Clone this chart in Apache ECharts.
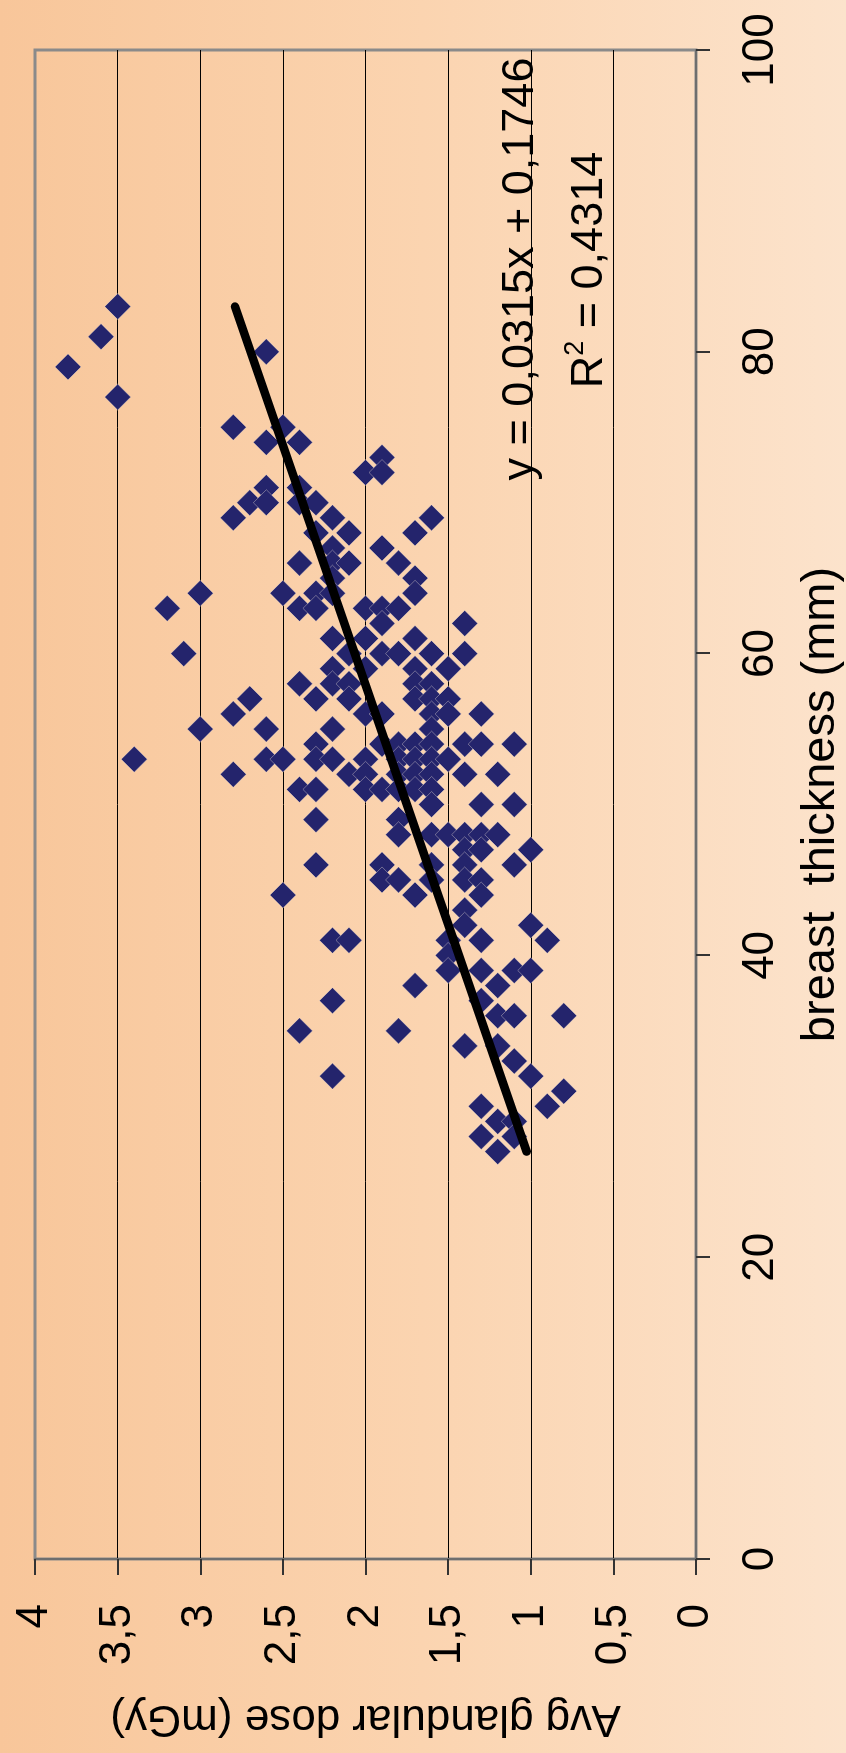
<!DOCTYPE html>
<html>
<head>
<meta charset="utf-8">
<script src="https://cdn.jsdelivr.net/npm/echarts@6/dist/echarts.min.js"></script>
<style>
  html, body { margin: 0; padding: 0; width: 846px; height: 1753px; overflow: hidden; background: #FBD9BA; }
  #chart {
    position: absolute; left: 0; top: 0;
    width: 1753px; height: 846px;
    transform-origin: 0 0;
    transform: translateY(1753px) rotate(-90deg);
    background: linear-gradient(to bottom, #F8C69A 0%, #FBD4B0 50%, #FCE3CC 100%);
  }
</style>
</head>
<body>
<div id="chart"></div>
<script>
// Breast thickness (mm) groups and the average glandular doses (mGy) read at each thickness
const thicknessGroups = [83, 81, 80, 79, 77, 75, 74, 73, 72, 71, 70, 69, 68, 67, 66, 65, 64, 63, 62, 61,
  60, 59, 58, 57, 56, 55, 54, 53, 52, 51, 50, 49, 48, 47, 46, 45, 44, 43, 42, 41,
  40, 39, 38, 37, 36, 35, 34, 33, 32, 31, 30, 29, 28, 27];
const doseGroups = [
  [3.5], [3.6], [2.6], [3.8], [3.5],
  [2.8, 2.5], [2.6, 2.4], [1.9], [2.0, 1.9], [2.6, 2.4],
  [2.7, 2.6, 2.4, 2.3], [2.8, 2.2, 1.6], [2.3, 2.1, 1.7], [2.2, 1.9], [2.4, 2.2, 2.1, 1.8],
  [2.2, 1.7], [3.0, 2.5, 2.3, 2.2, 1.7], [3.2, 2.4, 2.3, 2.0, 1.9, 1.8], [1.9, 1.4], [2.2, 2.0, 1.7],
  [3.1, 2.1, 1.9, 1.8, 1.6, 1.4], [2.2, 2.0, 1.7, 1.5], [2.4, 2.2, 2.1, 1.7, 1.6], [2.7, 2.3, 2.1, 1.7, 1.6, 1.5],
  [2.8, 2.0, 1.9, 1.6, 1.5, 1.3], [3.0, 2.6, 2.2, 1.6], [2.3, 1.9, 1.8, 1.7, 1.6, 1.4, 1.3, 1.1],
  [3.4, 2.6, 2.5, 2.3, 2.2, 2.0, 1.8, 1.7, 1.6, 1.5], [2.8, 2.1, 2.0, 1.8, 1.7, 1.6, 1.4, 1.2],
  [2.4, 2.3, 2.0, 1.9, 1.8, 1.7, 1.6], [1.6, 1.3, 1.1], [2.3, 1.8], [1.8, 1.6, 1.5, 1.4, 1.3, 1.2],
  [1.4, 1.3, 1.0], [2.3, 1.9, 1.6, 1.4, 1.1], [1.9, 1.8, 1.6, 1.4, 1.3], [2.5, 1.7, 1.3], [1.4],
  [1.4, 1.0], [2.2, 2.1, 1.5, 1.3, 0.9], [1.5], [1.5, 1.3, 1.1, 1.0], [1.7, 1.2], [2.2, 1.3],
  [1.2, 1.1, 0.8], [2.4, 1.8], [1.4, 1.2], [1.1], [2.2, 1.0], [0.8], [1.3, 0.9], [1.2, 1.1],
  [1.3, 1.1], [1.2]
];
// Linear trendline end points (x = thickness, y = dose) as drawn in the chart
const trendX = [27, 83];
const trendY = [1.025, 2.79];
const equationText = 'y = 0,0315x + 0,1746';
const r2Value = '0,4314';
const xTicks = { min: 0, max: 100, interval: 20 };
const yTicks = { min: 0, max: 4, interval: 0.5 };
const xTitle = 'breast  thickness (mm)';
const yTitle = 'Avg glandular dose (mGy)';

const points = [];
thicknessGroups.forEach((t, i) => doseGroups[i].forEach(d => points.push([t, d])));
const trend = trendX.map((x, i) => [x, trendY[i]]);

const FONT = "'Liberation Sans', Arial, sans-serif";
const chart = echarts.init(document.getElementById('chart'), null, { renderer: 'canvas', width: 1753, height: 846 });
chart.setOption({
  backgroundColor: 'transparent',
  animation: false,
  textStyle: { fontFamily: FONT },
  grid: {
    left: 194, right: 50, top: 35, bottom: 150,
    containLabel: false, outerBoundsMode: 'none',
    show: true, borderColor: '#8a8a8a', borderWidth: 3, backgroundColor: 'transparent'
  },
  xAxis: {
    type: 'value', min: xTicks.min, max: xTicks.max, interval: xTicks.interval,
    position: 'bottom',
    name: xTitle, nameLocation: 'middle', nameGap: 102,
    nameTextStyle: { fontSize: 47, color: '#000', fontFamily: FONT },
    axisLine: { show: true, onZero: false, lineStyle: { color: '#6e6e6e', width: 2 } },
    axisTick: { show: true, inside: false, length: 14, lineStyle: { color: '#333', width: 2 } },
    axisLabel: { fontSize: 44, color: '#000', margin: 43, fontFamily: FONT, showMinLabel: true, showMaxLabel: true },
    splitLine: { show: false }
  },
  yAxis: {
    type: 'value', min: yTicks.min, max: yTicks.max, interval: yTicks.interval,
    name: yTitle, nameLocation: 'middle', nameGap: 137, nameRotate: 90,
    nameTextStyle: { fontSize: 44, color: '#000', fontFamily: FONT },
    axisLine: { show: true, onZero: false, lineStyle: { color: '#6e6e6e', width: 2 } },
    axisTick: { show: true, inside: false, length: 16, lineStyle: { color: '#333', width: 2 } },
    axisLabel: {
      fontSize: 44, color: '#000', margin: 45, fontFamily: FONT, showMinLabel: true, showMaxLabel: true,
      formatter: v => String(v).replace('.', ',')
    },
    splitLine: { show: true, showMinLine: false, showMaxLine: false, lineStyle: { color: '#000', width: 1 } }
  },
  series: [
    {
      type: 'scatter', data: points, symbol: 'diamond', symbolSize: 26,
      itemStyle: { color: '#24246c', opacity: 1, borderColor: 'rgba(255,240,225,0.45)', borderWidth: 0.8 },
      z: 2
    },
    {
      type: 'line', data: trend, symbol: 'none', silent: true,
      lineStyle: { color: '#000', width: 8.5, cap: 'round' },
      z: 3
    }
  ],
  graphic: [
    {
      type: 'text', x: 1484, y: 520.5, z: 10,
      style: { text: equationText, fontSize: 45, fontFamily: FONT, fill: '#000', align: 'center', verticalAlign: 'middle' }
    },
    {
      type: 'text', x: 1483, y: 562, z: 10,
      style: {
        text: '{r|R}{s|2}{r| = ' + r2Value + '}',
        align: 'center', verticalAlign: 'top', fontFamily: FONT,
        rich: {
          r: { fontSize: 45, fontFamily: FONT, fill: '#000', lineHeight: 50, verticalAlign: 'bottom' },
          s: { fontSize: 27, fontFamily: FONT, fill: '#000', lineHeight: 22, verticalAlign: 'top' }
        }
      }
    }
  ]
});
</script>
</body>
</html>
